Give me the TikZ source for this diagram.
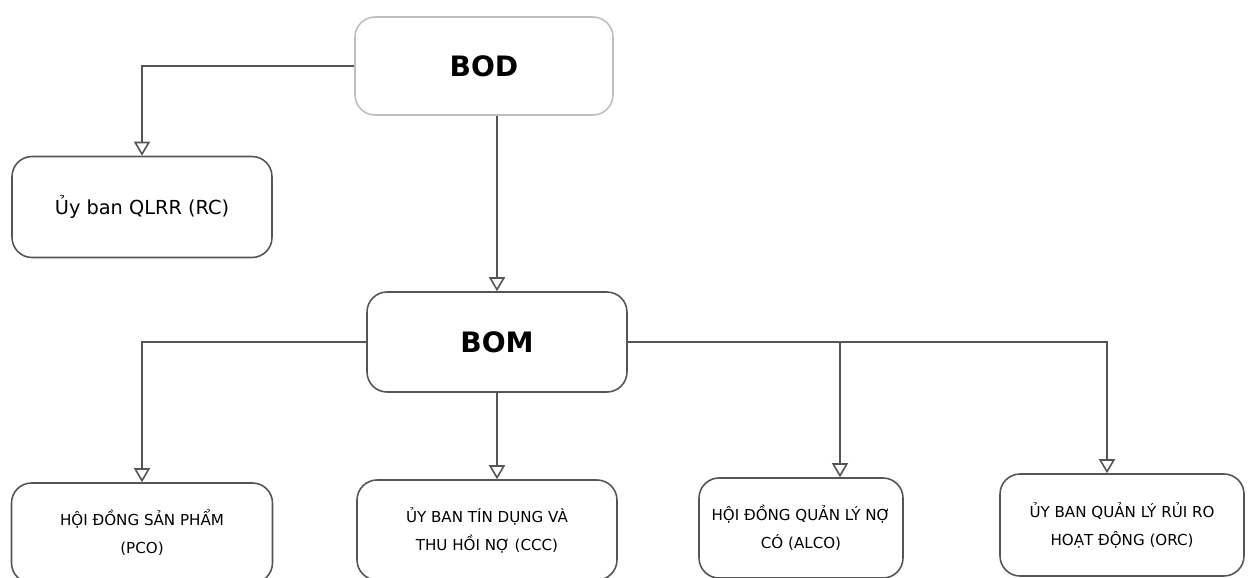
\documentclass[tikz,border=0pt]{standalone}
\usepackage{fontspec}
\setmainfont{DejaVu Sans}
\usepackage{xcolor}
\usetikzlibrary{arrows.meta, positioning, calc}
\definecolor{linegray}{RGB}{85, 85, 85}
\definecolor{lightgray}{RGB}{190, 190, 190}

\begin{document}
\begin{tikzpicture}[
    x=0.02cm, y=-0.02cm,
    board/.style={rectangle, rounded corners=0.4cm, minimum width=5.2cm, minimum height=2cm, text centered, draw=linegray, line width=0.9pt, font=\fontsize{16}{19}\selectfont\bfseries},
    unit/.style={rectangle, rounded corners=0.4cm, minimum width=5.2cm, minimum height=2cm, text centered, align=center, draw=linegray, line width=0.9pt, font=\fontsize{11}{13}\selectfont},
    council/.style={unit, font=\fontsize{8.6}{16}\selectfont},
    link/.style={draw=linegray, line width=0.9pt, -{Triangle[open, length=0.28cm, width=0.32cm]}}
]

\useasboundingbox (0,0) rectangle (1248,578);

% Boards
\node (bod) [board, draw=lightgray, minimum width=5.16cm, minimum height=1.96cm] at (484,66) {BOD};
\node (bom) [board] at (497,342) {BOM};

% Risk committee
\node (rc) [unit, minimum height=2.02cm] at (142,207) {Ủy ban QLRR (RC)};

% Councils and committees
\node (pco) [council, minimum width=5.22cm] at (142,533) {HỘI ĐỒNG SẢN PHẨM\\(PCO)};
\node (ccc) [council] at (487,530) {ỦY BAN TÍN DỤNG VÀ\\THU HỒI NỢ (CCC)};
\node (alco) [council, minimum width=4.08cm] at (801,528) {HỘI ĐỒNG QUẢN LÝ NỢ\\CÓ (ALCO)};
\node (orc) [council, minimum width=4.88cm, minimum height=2.04cm] at (1122,525) {ỦY BAN QUẢN LÝ RỦI RO\\HOẠT ĐỘNG (ORC)};

% Connectors
\coordinate (alco_in) at ([xshift=0.78cm]alco.north);
\coordinate (orc_in) at ([xshift=-0.3cm]orc.north);

\draw [link] (bod.west) -| (rc.north);
\draw [link] (bod.south -| bom.north) -- (bom.north);
\draw [link] (bom.west) -| (pco.north);
\draw [link] (bom.south) -- (bom.south |- ccc.north);
\draw [link] (bom.east) -| (orc_in);
\draw [link] (bom.east -| alco_in) -- (alco_in);

\end{tikzpicture}
\end{document}
